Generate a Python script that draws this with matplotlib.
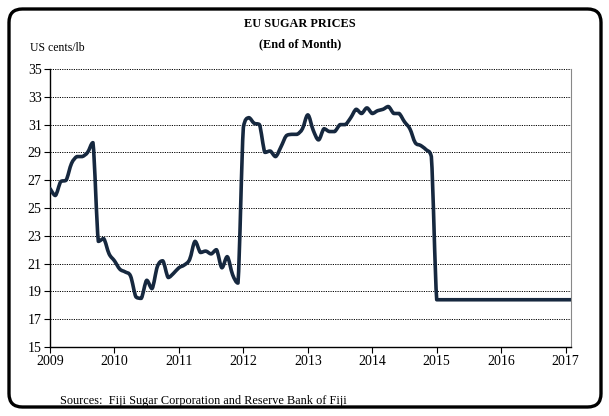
import numpy as np
import matplotlib
matplotlib.use("Agg")
import matplotlib.pyplot as plt
from matplotlib.path import Path
from matplotlib.patches import PathPatch, FancyBboxPatch

# Monthly end-of-month EU sugar price, US cents/lb, Jan 2009 onwards
prices_2009 = [26.4, 25.9, 26.9, 27.0, 28.2, 28.7, 28.7, 29.0, 29.7, 22.6, 22.8, 21.7]
prices_2010 = [21.2, 20.6, 20.4, 20.1, 18.6, 18.5, 19.8, 19.2, 20.8, 21.2, 20.0, 20.3]
prices_2011 = [20.7, 20.9, 21.3, 22.6, 21.8, 21.9, 21.7, 22.0, 20.7, 21.5, 20.2, 19.6]
prices_2012 = [30.8, 31.5, 31.1, 31.0, 29.0, 29.1, 28.7, 29.4, 30.2, 30.3, 30.3, 30.7]
prices_2013 = [31.7, 30.6, 29.9, 30.7, 30.5, 30.5, 31.0, 31.0, 31.5, 32.1, 31.8, 32.2]
prices_2014 = [31.8, 32.0, 32.1, 32.3, 31.8, 31.8, 31.2, 30.7, 29.7, 29.5, 29.2, 28.7]
prices_2015 = [18.4] * 12
prices_2016 = [18.4] * 12
prices_2017 = [18.4, 18.4]

prices = (prices_2009 + prices_2010 + prices_2011 + prices_2012 + prices_2013
          + prices_2014 + prices_2015 + prices_2016 + prices_2017)
year_labels = ["2009", "2010", "2011", "2012", "2013", "2014", "2015", "2016", "2017"]
y_ticks = [15, 17, 19, 21, 23, 25, 27, 29, 31, 33, 35]

LINE_COLOR = "#16283f"
SERIF = "Liberation Serif"

fig = plt.figure(figsize=(6.09, 4.16), dpi=100)
fig.patch.set_facecolor("white")

# rounded frame around the whole chart
frame = FancyBboxPatch((9 / 609, 9 / 416), 592 / 609, 398 / 416,
                       boxstyle="round,pad=0,rounding_size=0.022",
                       transform=fig.transFigure, facecolor="none",
                       edgecolor="black", linewidth=2.4, mutation_aspect=609 / 416)
fig.patches.append(frame)

ax = fig.add_axes([50 / 609, 1 - 347 / 416, 521 / 609, 278 / 416])

x = np.arange(len(prices), dtype=float)
y = np.asarray(prices, dtype=float)

# smoothed line drawn as cubic Bezier segments through the monthly points;
# control heights are kept between the two end points of each segment
t = 1 / 6
verts = [(x[0], y[0])]
codes = [Path.MOVETO]
n = len(x)
for i in range(n - 1):
    p0 = np.array([x[max(i - 1, 0)], y[max(i - 1, 0)]])
    p1 = np.array([x[i], y[i]])
    p2 = np.array([x[i + 1], y[i + 1]])
    p3 = np.array([x[min(i + 2, n - 1)], y[min(i + 2, n - 1)]])
    c1 = p1 + (p2 - p0) * t
    c2 = p2 - (p3 - p1) * t
    lo, hi = min(p1[1], p2[1]), max(p1[1], p2[1])
    c1[1] = np.clip(c1[1], lo, hi)
    c2[1] = np.clip(c2[1], lo, hi)
    verts += [tuple(c1), tuple(c2), tuple(p2)]
    codes += [Path.CURVE4] * 3
ax.add_patch(PathPatch(Path(verts, codes), facecolor="none", edgecolor=LINE_COLOR,
                       linewidth=2.6, capstyle="round", joinstyle="round", zorder=3))

ax.set_xlim(0, len(prices) - 1)
ax.set_ylim(15, 35)
ax.set_xticks(np.arange(len(year_labels)) * 12)
ax.set_xticklabels(year_labels, family=SERIF, fontsize=10)
ax.set_yticks(y_ticks)
ax.set_yticklabels([str(v) for v in y_ticks], family=SERIF, fontsize=10)
ax.tick_params(axis="both", direction="out", length=4, width=0.8, pad=2, colors="black")

for v in y_ticks[1:]:
    ax.axhline(v, color="black", linewidth=0.7, linestyle=(0, (1.2, 1.2)), zorder=1)

ax.spines["top"].set_visible(False)
ax.spines["right"].set_color("#888888")
ax.spines["right"].set_linewidth(0.8)
ax.spines["left"].set_linewidth(1.0)
ax.spines["bottom"].set_linewidth(1.0)

fig.text(300 / 609, 1 - 24 / 416, "EU SUGAR PRICES", ha="center", va="center",
         family=SERIF, fontweight="bold", fontsize=8.8)
fig.text(300 / 609, 1 - 44 / 416, "(End of Month)", ha="center", va="center",
         family=SERIF, fontweight="bold", fontsize=8.8)
fig.text(30 / 609, 1 - 48 / 416, "US cents/lb", ha="left", va="center",
         family=SERIF, fontsize=8.5)
fig.text(60 / 609, 1 - 401 / 416, "Sources:  Fiji Sugar Corporation and Reserve Bank of Fiji",
         ha="left", va="center", family=SERIF, fontsize=8.8)

fig.savefig("out.png", dpi=100, facecolor="white")
